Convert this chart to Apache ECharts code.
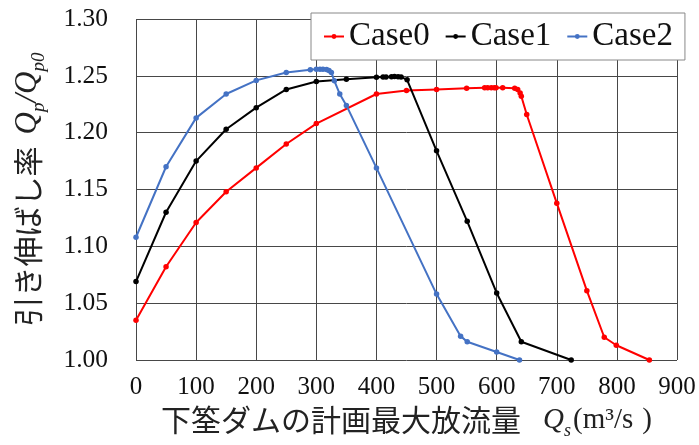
<!DOCTYPE html>
<html><head><meta charset="utf-8">
<script src="https://cdn.jsdelivr.net/npm/echarts@6/dist/echarts.min.js"></script>
<style>html,body{margin:0;padding:0;background:#fff}#c{width:699px;height:445px}</style>
</head><body><div id="c"></div>
<script>
const seriesNames = ['Case0', 'Case1', 'Case2'];
const case0X = [0, 50, 100, 150, 200, 250, 300, 400, 450, 500, 550, 580, 585, 591, 596, 599, 610, 630, 635, 639, 641, 650, 700, 750, 779, 799, 854];
const case0Y = [1.035, 1.082, 1.121, 1.148, 1.169, 1.190, 1.208, 1.234, 1.237, 1.238, 1.239, 1.2395, 1.2395, 1.2395, 1.2395, 1.2395, 1.2395, 1.239, 1.238, 1.235, 1.232, 1.216, 1.138, 1.061, 1.020, 1.013, 1.000];
const case1X = [0, 50, 100, 150, 200, 250, 300, 350, 400, 411, 416, 425, 430, 436, 441, 451, 500, 551, 600, 641, 724];
const case1Y = [1.069, 1.130, 1.175, 1.203, 1.222, 1.238, 1.245, 1.247, 1.2488, 1.249, 1.249, 1.2492, 1.2494, 1.2492, 1.249, 1.2465, 1.184, 1.122, 1.059, 1.016, 1.000];
const case2X = [0, 50, 100, 150, 200, 250, 290, 300, 306, 311, 317, 321, 325, 330, 339, 350, 400, 500, 540, 551, 600, 638];
const case2Y = [1.108, 1.170, 1.213, 1.234, 1.246, 1.253, 1.2553, 1.2559, 1.2559, 1.2559, 1.2556, 1.2547, 1.253, 1.2456, 1.234, 1.224, 1.169, 1.058, 1.021, 1.016, 1.007, 1.000];
const colors = ['#ff0000', '#000000', '#4472c4'];

const xs = [case0X, case1X, case2X];
const ys = [case0Y, case1Y, case2Y];

const serif = 'Liberation Serif';
const cjk = 'Noto Sans CJK JP';
const gridColor = '#474747';

const chart = echarts.init(document.getElementById('c'));
chart.setOption({
  animation: false,
  backgroundColor: '#fff',
  grid: { left: 136, right: 22, top: 19, bottom: 85 },
  legend: {
    data: seriesNames,
    left: 311, top: 13,
    backgroundColor: '#fff',
    borderColor: '#888', borderWidth: 1,
    padding: [7, 12, 7, 12],
    itemWidth: 20, itemHeight: 6, itemGap: 15,
    textStyle: { fontFamily: serif, fontSize: 33, color: '#111' }
  },
  xAxis: {
    type: 'value', min: 0, max: 900, interval: 100,
    axisLine: { show: false }, axisTick: { show: false },
    splitLine: { show: true, lineStyle: { color: gridColor, width: 1 } },
    axisLabel: { fontFamily: serif, fontSize: 25, color: '#111', margin: 15 },
    name: '{j|下筌ダムの計画最大放流量}{q|Q}{s|s}{r|(m³/s}{p|)}',
    nameLocation: 'middle', nameGap: 34,
    nameTextStyle: {
      rich: {
        j: { fontFamily: cjk, fontSize: 30, color: '#222' },
        q: { fontFamily: serif, fontStyle: 'italic', fontSize: 29, color: '#222', padding: [0, 0, 0, 22] },
        s: { fontFamily: serif, fontStyle: 'italic', fontSize: 18, color: '#222', padding: [22, 0, 0, 0] },
        r: { fontFamily: serif, fontSize: 29, color: '#222', padding: [0, 0, 0, 2] },
        p: { fontFamily: serif, fontSize: 29, color: '#222', padding: [0, 0, 0, 9] }
      }
    }
  },
  yAxis: {
    type: 'value', min: 1.0, max: 1.3, interval: 0.05,
    axisLine: { show: false }, axisTick: { show: false },
    splitLine: { show: true, lineStyle: { color: gridColor, width: 1 } },
    axisLabel: { fontFamily: serif, fontSize: 25.5, color: '#111', margin: 28, formatter: v => v.toFixed(2) },
    name: '{j|引き伸ばし率}{q|Q}{s|p}{q2|/Q}{s|p0}',
    nameLocation: 'middle', nameRotate: 90, nameGap: 88,
    nameTextStyle: {
      rich: {
        j: { fontFamily: cjk, fontSize: 30, color: '#222' },
        q: { fontFamily: serif, fontStyle: 'italic', fontSize: 31, color: '#222', padding: [0, 0, 0, 12] },
        q2: { fontFamily: serif, fontStyle: 'italic', fontSize: 31, color: '#222' },
        s: { fontFamily: serif, fontStyle: 'italic', fontSize: 19, color: '#222', padding: [22, 0, 0, 0] }
      }
    }
  },
  series: seriesNames.map((n, i) => ({
    name: n, type: 'line',
    data: xs[i].map((x, k) => [x, ys[i][k]]),
    symbol: 'circle', symbolSize: 5.5,
    lineStyle: { color: colors[i], width: 2 },
    itemStyle: { color: colors[i] }
  }))
});
</script>
</body></html>
